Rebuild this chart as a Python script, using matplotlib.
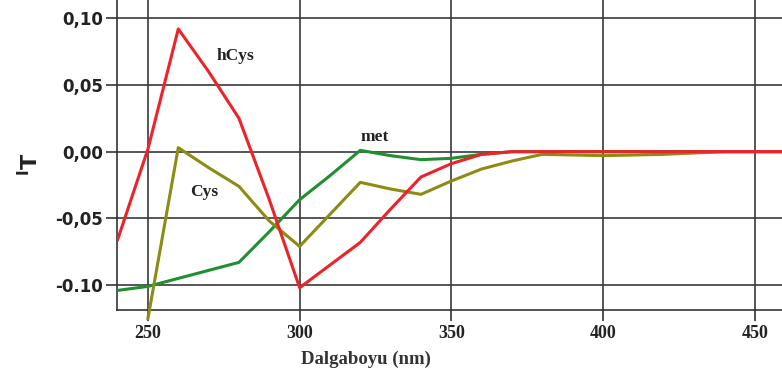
import matplotlib
matplotlib.use("Agg")
import matplotlib.pyplot as plt

# Data (wavelength in nm)
wl_hcys = [240, 250, 260, 270, 280, 290, 300, 310, 320, 330, 340, 350, 360, 370, 380, 400, 420, 440, 460]
hcys = [-0.066, 0.002, 0.092, 0.060, 0.025, -0.036, -0.102, -0.085, -0.068, -0.043, -0.019, -0.009, -0.002, 0.000, 0.000, 0.000, 0.000, 0.000, 0.000]

wl_met = [240, 250, 260, 270, 280, 290, 300, 310, 320, 330, 340, 350, 360, 370, 380, 400, 420, 440, 460]
met = [-0.104, -0.101, -0.095, -0.089, -0.083, -0.060, -0.036, -0.018, 0.001, -0.003, -0.006, -0.005, -0.002, 0.000, 0.000, 0.000, 0.000, 0.000, 0.000]

wl_cys = [250, 260, 270, 280, 290, 300, 310, 320, 330, 340, 350, 360, 370, 380, 400, 420, 440, 460]
cys = [-0.125, 0.003, -0.012, -0.026, -0.052, -0.071, -0.047, -0.023, -0.028, -0.032, -0.022, -0.013, -0.007, -0.002, -0.003, -0.002, 0.000, 0.000]

xticks = [250, 300, 350, 400, 450]
yticks = [0.10, 0.05, 0.00, -0.05, -0.10]
ytick_labels = ["0,10", "0,05", "0,00", "-0,05", "-0.10"]

labels = [("hCys", 278.7, 0.0716), ("Cys", 268.5, -0.0299), ("met", 324.6, 0.0112)]

fig = plt.figure(figsize=(7.82, 3.81), dpi=100)
ax = fig.add_axes([117 / 782, 1 - 310 / 381, 1 - 117 / 782, 310 / 381])

ax.plot(wl_met, met, color="#1f8f2f", lw=2.2, zorder=3)
ax.plot(wl_cys, cys, color="#8c8c14", lw=2.2, zorder=4, clip_on=False)
ax.plot(wl_hcys, hcys, color="#ee2229", lw=2.2, zorder=5)

ax.set_xlim(239.8, 459)
ax.set_ylim(-0.1187, 0.1137)

ax.set_xticks(xticks)
ax.set_xticklabels([str(t) for t in xticks], fontfamily="Liberation Serif",
                   fontweight="bold", fontsize=13, color="#222222")
ax.set_yticks(yticks)
ax.set_yticklabels(ytick_labels, fontfamily="DejaVu Sans", fontweight="bold",
                   fontsize=12, color="#222222")

ax.tick_params(axis="both", direction="out", length=8, width=1.2, color="#333333")
ax.tick_params(axis="x", pad=3)
ax.tick_params(axis="y", pad=2)

ax.grid(True, color="#3a3a3a", lw=1.2, zorder=1)
ax.set_axisbelow(True)

for s in ["top", "right"]:
    ax.spines[s].set_visible(False)
for s in ["left", "bottom"]:
    ax.spines[s].set_color("#333333")
    ax.spines[s].set_linewidth(1.2)

ax.set_xlabel("Dalgaboyu (nm)", fontfamily="Liberation Serif", fontweight="bold",
              fontsize=13.5, color="#333333")
ax.xaxis.set_label_coords(0.374, -0.13)
ax.set_ylabel(r"$^{\mathbf{I}}\mathbf{T}$", fontsize=16, color="#222222", rotation=90)
ax.yaxis.set_label_coords(-0.112, 0.47)

for txt, x, y in labels:
    ax.text(x, y, txt, fontfamily="Liberation Serif", fontweight="bold",
            fontsize=12.5, ha="center", va="center", color="#222222", zorder=6)

fig.savefig("out.png", dpi=100)
